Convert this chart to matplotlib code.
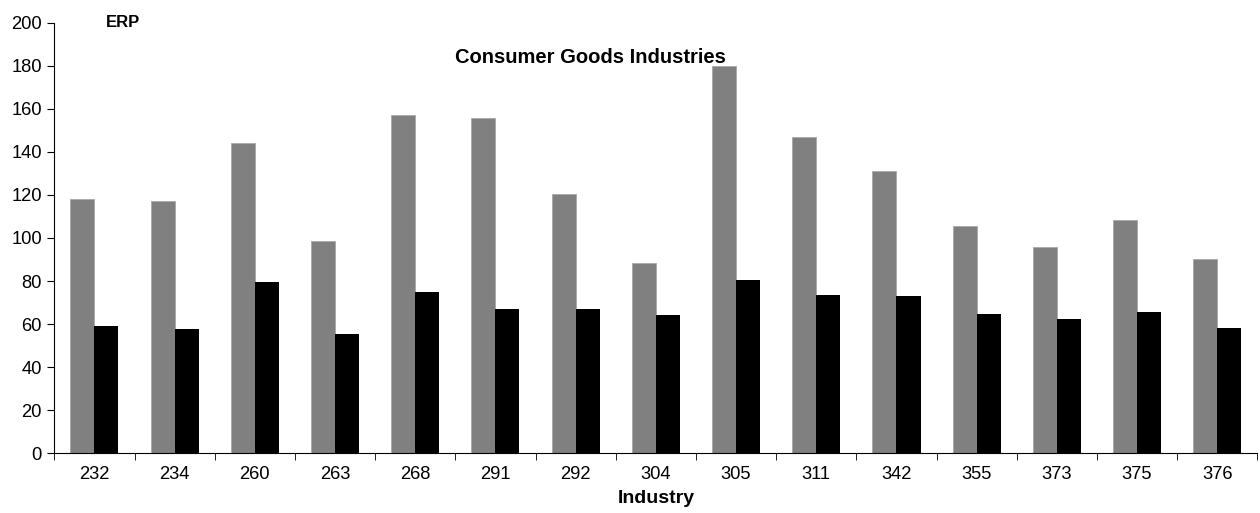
import numpy as np
import matplotlib.pyplot as plt

plt.rcParams['font.family'] = ['Liberation Sans', 'DejaVu Sans']

# ERP by industry
industries = ['232', '234', '260', '263', '268', '291', '292', '304',
              '305', '311', '342', '355', '373', '375', '376']
erp_gray = [118, 117.2, 144.1, 98.5, 157.1, 155.6, 120.4, 88.4,
            180, 146.8, 131, 105.7, 96, 108.2, 90.2]
erp_black = [59.1, 57.6, 79.6, 55.3, 74.8, 67.2, 67.2, 64.1,
             80.3, 73.7, 73.1, 64.9, 62.4, 65.6, 58.3]

x = np.arange(len(industries))
w = 0.30

fig = plt.figure(figsize=(12.6, 5.13), dpi=100)
ax = fig.add_axes([0.0431, 0.1164, 0.9548, 0.8394])

ax.bar(x - w / 2, erp_gray, width=w, color='#808080', edgecolor='#a8a8a8', linewidth=0.6)
ax.bar(x + w / 2, erp_black, width=w, color='black')

ax.set_xlim(-0.5, len(industries) - 0.5)
ax.set_ylim(0, 200)
ax.set_yticks(range(0, 201, 20))
ax.set_xticks(x)
ax.set_xticklabels(industries)
ax.set_xticks(np.arange(-0.5, len(industries)), minor=True)
ax.tick_params(axis='x', which='major', length=0, labelsize=13.2, pad=9)
ax.tick_params(axis='x', which='minor', length=5, direction='out')
ax.tick_params(axis='y', length=5, direction='out', labelsize=13.2, pad=4)

for s in ['top', 'right']:
    ax.spines[s].set_visible(False)

ax.set_xlabel('Industry', fontsize=14, fontweight='bold', labelpad=5)
ax.text(0.4457, 0.92, 'Consumer Goods Industries', transform=ax.transAxes,
        ha='center', va='center', fontsize=14.5, fontweight='bold')
ax.text(0.0574, 1.0, 'ERP', transform=ax.transAxes, ha='center', va='center',
        fontsize=12, fontweight='bold')

plt.savefig('out.png', dpi=100)
